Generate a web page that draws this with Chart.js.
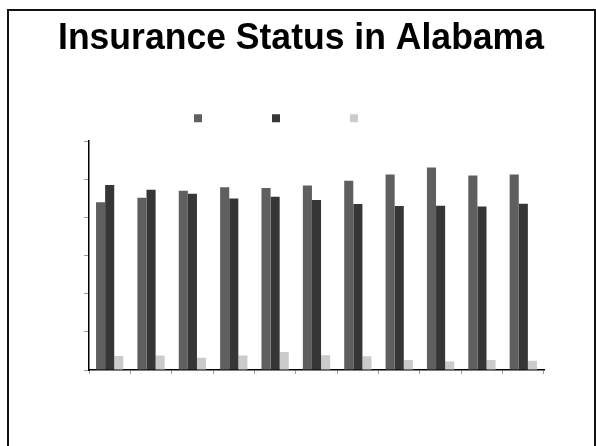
<!DOCTYPE html>
<html>
<head>
<meta charset="utf-8">
<title>Insurance Status in Alabama</title>
<script src="https://cdn.jsdelivr.net/npm/chart.js@4/dist/chart.umd.min.js"></script>
<style>
    html, body { margin: 0; padding: 0; background: #fff; }
    #wrap { position: relative; width: 596px; height: 446px; overflow: hidden; }
    #frame {
        position: absolute; left: 7px; top: 9px; width: 585px; height: 500px;
        border: 2px solid #111; pointer-events: none;
    }
    canvas { position: absolute; left: 0; top: 0; }
</style>
</head>
<body>
<div id="wrap">
    <canvas id="insChart" width="596" height="446"></canvas>
    <div id="frame"></div>
</div>
<script>
const years = ['1996', '1997', '1998', '1999', '2000', '2001', '2002', '2003', '2004', '2005', '2006'];
const seriesNames = ['Private', 'Public', 'Uninsured'];
const privateVals = [44.0, 45.2, 47.0, 47.9, 47.7, 48.4, 49.6, 51.3, 53.1, 51.0, 51.3];
const publicVals = [48.5, 47.3, 46.2, 45.0, 45.4, 44.6, 43.5, 43.0, 43.1, 42.9, 43.6];
const uninsuredVals = [3.7, 3.8, 3.2, 3.8, 4.7, 3.9, 3.6, 2.6, 2.2, 2.6, 2.4];
const yTicks = [0, 10, 20, 30, 40, 50, 60];

const colors = ['#5f5f5f', '#363636', '#cbcbcb'];

// the key sits a little left of and above where the layout puts it
const LEGEND_DX = -22;
const LEGEND_DY = -12;
const legendPlace = {
    id: 'legendPlace',
    afterLayout(chart) {
        const lg = chart.legend;
        if (!lg) return;
        lg.left += LEGEND_DX; lg.right += LEGEND_DX;
        lg.top += LEGEND_DY; lg.bottom += LEGEND_DY;
    }
};

function drawChart() {
    const ctx = document.getElementById('insChart').getContext('2d');
    const sets = [privateVals, publicVals, uninsuredVals];

    new Chart(ctx, {
        type: 'bar',
        data: {
            labels: years,
            datasets: sets.map((vals, i) => ({
                label: seriesNames[i],
                data: vals,
                backgroundColor: colors[i],
                borderWidth: 0,
                categoryPercentage: 0.66,
                barPercentage: 1.0
            }))
        },
        options: {
            responsive: false,
            animation: false,
            events: [],
            layout: { padding: { left: 58, right: 52, top: 0, bottom: 71 } },
            scales: {
                x: {
                    grid: { display: true, drawOnChartArea: false, drawTicks: true, tickLength: 4, color: '#9a9a9a', offset: true },
                    border: { display: true, color: '#000', width: 1.5 },
                    ticks: { display: false },
                    afterFit: (axis) => { axis.height = 5; }
                },
                y: {
                    min: yTicks[0],
                    max: yTicks[yTicks.length - 1],
                    afterBuildTicks: (axis) => { axis.ticks = yTicks.map(v => ({ value: v })); },
                    grid: { display: true, drawOnChartArea: false, drawTicks: true, tickLength: 5, color: '#9a9a9a' },
                    border: { display: true, color: '#000', width: 1.5 },
                    ticks: { display: false },
                    afterFit: (axis) => { axis.width = 31; }
                }
            },
            plugins: {
                title: {
                    display: true,
                    text: 'Insurance Status in Alabama',
                    color: '#000',
                    font: { family: 'Liberation Sans, Arial, sans-serif', size: 36, weight: 'bold' },
                    padding: { top: 17, bottom: 0 }
                },
                legend: {
                    display: true,
                    position: 'top',
                    maxHeight: 81,
                    labels: {
                        boxWidth: 8,
                        boxHeight: 8,
                        padding: 64,
                        font: { size: 12 },
                        generateLabels: (chart) => chart.data.datasets.map((ds, i) => ({
                            text: '',
                            fillStyle: ds.backgroundColor,
                            strokeStyle: ds.backgroundColor,
                            lineWidth: 0,
                            hidden: false,
                            datasetIndex: i
                        }))
                    }
                },
                tooltip: { enabled: false }
            }
        },
        plugins: [legendPlace]
    });
}

window.addEventListener('load', drawChart);
</script>
</body>
</html>
